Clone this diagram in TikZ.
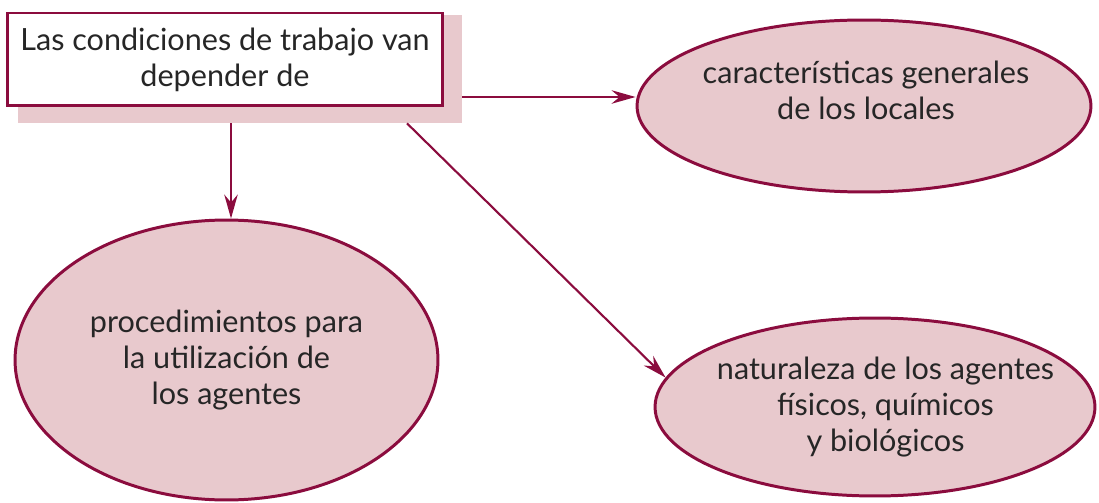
\documentclass[tikz,border=0pt]{standalone}
\usepackage{fontspec}
\setmainfont{Lato}
\usetikzlibrary{shapes.geometric}
\usetikzlibrary{arrows.meta}

\definecolor{granate}{RGB}{139,12,62}
\definecolor{rosa}{RGB}{232,201,205}

\begin{document}
\begin{tikzpicture}[
    x=0.02cm, y=-0.02cm,
    txt/.style={align=center, text=black!85, font=\fontsize{17.4}{20.5}\selectfont},
    bubble/.style={ellipse, draw=granate, fill=rosa, line width=1.7pt, inner sep=0pt, txt},
    arr/.style={draw=granate, line width=1.2pt, -{Stealth[length=4.8mm, width=2.7mm, inset=1.6mm]}}
  ]
  \useasboundingbox (0,0) rectangle (1099,503);
  % caja principal con sombra
  \node[fill=rosa, minimum width=8.88cm, minimum height=2.16cm, inner sep=0pt] at (240,69) (sombra) {};
  \node[draw=granate, fill=white, line width=1.7pt, minimum width=8.72cm, minimum height=1.86cm, inner sep=0pt, txt] at (225,59.5) (condiciones) {Las condiciones de trabajo van\\depender de};
  % elipses
  \node[bubble, minimum width=9.08cm, minimum height=3.44cm,
        label={[txt, yshift=0.32cm, xshift=0.04cm]center:{características generales\\de los locales}}] at (864,106) (locales) {};
  \node[bubble, minimum width=8.46cm, minimum height=5.6cm] at (226.5,360) (procedimientos) {procedimientos para\\la utilización de\\los agentes};
  \node[bubble, minimum width=8.8cm, minimum height=3.56cm,
        label={[txt, xshift=0.21cm]center:{naturaleza de los agentes\\físicos, químicos\\y biológicos}}] at (875,407) (naturaleza) {};
  % flechas
  \draw[arr] (sombra.east |- 0,97) -- (locales.west |- 0,97);
  \draw[arr] (sombra.south -| 231,0) -- (procedimientos.north -| 231,0);
  \draw[arr] (sombra.south -| 407,0) -- (naturaleza.172);
\end{tikzpicture}
\end{document}
